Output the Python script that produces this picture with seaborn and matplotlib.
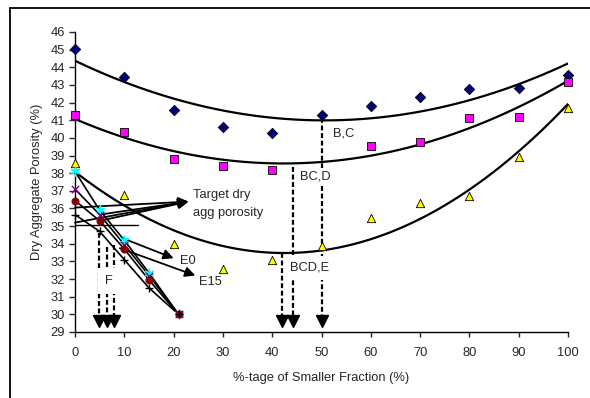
import matplotlib
matplotlib.use('Agg')
import matplotlib.pyplot as plt
import seaborn as sns
import numpy as np
import pandas as pd
from matplotlib.lines import Line2D

# data
x_frac = [0, 10, 20, 30, 40, 50, 60, 70, 80, 90, 100]
por_bc = [45.05, 43.45, 41.6, 40.6, 40.25, 41.3, 41.8, 42.3, 42.75, 42.8, 43.55]
x_frac_d = [0, 10, 20, 30, 40, 60, 70, 80, 90, 100]
por_bcd = [41.28, 40.35, 38.8, 38.4, 38.2, 39.55, 39.75, 41.15, 41.2, 43.15]
por_bcde = [38.56, 36.77, 34.0, 32.56, 33.08, 33.86, 35.44, 36.3, 36.7, 38.92, 41.7]

x_e = [0, 5, 10, 15, 21]
e_cyan = [38.1, 35.9, 34.2, 32.35, 30.0]
e_purple = [37.1, 35.65, 33.95, 32.2, 30.0]
e_red = [36.45, 35.3, 33.7, 31.95, 30.0]
e_plus = [35.65, 34.7, 33.1, 31.5, 30.0]

x_ticks = list(range(0, 101, 10))
y_ticks = list(range(29, 47))

# annotation anchors
target_from = [(0, 36.05), (0, 35.2), (5, 35.65), (5, 35.3)]
target_tip = (23, 36.39)
f_arrows = [(4.9, 34.6), (6.4, 33.8), (7.9, 33.95)]
opt_arrows = [(42.0, 33.48), (44.2, 38.37), (50.0, 41.1)]
arrow_end = 29.63

sns.set_style('white')
plt.rcParams['font.family'] = ['Liberation Sans', 'DejaVu Sans']

fig = plt.figure(figsize=(5.9, 3.98), dpi=100)
ax = fig.add_axes([75 / 590, 1 - 332 / 398, 493 / 590, 300 / 398])

# trendlines (2nd order like Excel)
for xs, ys in [(x_frac, por_bc), (x_frac_d, por_bcd), (x_frac, por_bcde)]:
    sns.regplot(x=xs, y=ys, order=2, ci=None, scatter=False, ax=ax,
                line_kws=dict(color='black', lw=1.6, zorder=2))

# E-series connecting lines
for ys in [e_cyan, e_purple, e_red, e_plus]:
    sns.lineplot(x=x_e, y=ys, color='black', lw=1.2, sort=False, ax=ax, zorder=2)

# markers
mk = dict(ax=ax, zorder=5, clip_on=False)
sns.scatterplot(x=x_frac, y=por_bc, marker='D', s=28, color='#000080',
                edgecolor='black', linewidth=0.6, **mk)
sns.scatterplot(x=x_frac_d, y=por_bcd, marker='s', s=32, color='#FF00FF',
                edgecolor='black', linewidth=0.6, **mk)
sns.scatterplot(x=x_frac, y=por_bcde, marker='^', s=36, color='#FFFF00',
                edgecolor='black', linewidth=0.6, **mk)
sns.scatterplot(x=x_e, y=e_cyan, marker=(6, 2, 0), s=40, color='#00FFFF',
                linewidth=1.0, **mk)
sns.scatterplot(x=x_e, y=e_purple, marker='x', s=28, color='#800080',
                linewidth=1.0, **mk)
sns.scatterplot(x=x_e, y=e_red, marker='o', s=28, color='#800000',
                edgecolor='#800000', **mk)
sns.scatterplot(x=x_e, y=e_plus, marker='+', s=40, color='black',
                linewidth=1.0, **mk)

arrow_kw = dict(arrowstyle='-|>', color='black', lw=1.3, mutation_scale=15,
                shrinkA=0, shrinkB=0)
for start in target_from:
    ax.annotate('', xy=target_tip, xytext=start, arrowprops=arrow_kw, zorder=3)
ax.annotate('', xy=(20, 33.18), xytext=(9.8, 34.3), arrowprops=arrow_kw)
ax.annotate('', xy=(24.4, 32.2), xytext=(9.1, 33.75), arrowprops=arrow_kw)
ax.plot([0, 12.8], [35.05, 35.05], color='black', lw=1.0, zorder=3)

# dashed drop arrows
for xv, ytop in f_arrows + opt_arrows:
    ax.plot([xv, xv], [ytop, arrow_end], color='black', lw=1.6,
            dashes=(2.2, 1.2), zorder=3)
    ax.plot([xv], [arrow_end], marker='v', markersize=8, color='black',
            linestyle='none', zorder=3)

fs = 9.3
ax.text(24, 36.76, 'Target dry', fontsize=fs, va='center', ha='left')
ax.text(24, 35.74, 'agg porosity', fontsize=fs, va='center', ha='left')
ax.text(21.3, 33.0, 'E0', fontsize=fs, va='center', ha='left')
ax.text(25.2, 31.85, 'E15', fontsize=fs, va='center', ha='left')
ax.text(52.4, 40.26, 'B,C', fontsize=fs, va='center', ha='left')
ax.text(45.6, 37.8, 'BC,D', fontsize=fs, va='center', ha='left', zorder=6,
        bbox=dict(boxstyle='square,pad=0.2', fc='white', ec='none'))
ax.text(43.7, 32.63, 'BCD,E', fontsize=fs, va='center', ha='left', zorder=6,
        bbox=dict(boxstyle='square,pad=0.45', fc='white', ec='none'))
ax.text(6.9, 31.9, 'F', fontsize=fs, va='center', ha='center', zorder=6,
        bbox=dict(boxstyle='square,pad=0.55', fc='white', ec='none'))

ax.set_xlim(0, 100)
ax.set_ylim(29, 46)
ax.set_xticks(x_ticks)
ax.set_yticks(y_ticks)
ax.tick_params(axis='y', direction='out', length=4, width=1, pad=3, labelsize=9.3, left=True)
ax.tick_params(axis='x', direction='out', length=3.5, width=1, pad=7, labelsize=9.3, bottom=True)
for side in ['top', 'right']:
    ax.spines[side].set_visible(False)
for side in ['left', 'bottom']:
    ax.spines[side].set_color('black')
    ax.spines[side].set_linewidth(1.0)

ax.set_xlabel('%-tage of Smaller Fraction (%)', fontsize=9.3)
ax.xaxis.label.set_va('center')
ax.xaxis.set_label_coords(0.5, -(378 - 332) / 300)
ax.set_ylabel('Dry Aggregate Porosity (%)', fontsize=9.3)
ax.yaxis.label.set_va('center')
ax.yaxis.set_label_coords((37 - 75) / 493, 0.5)

# chart area frame (top and left edges visible)
fig.add_artist(Line2D([10 / 590, 1], [1 - 8 / 398, 1 - 8 / 398], color='black', lw=1.3))
fig.add_artist(Line2D([10 / 590, 10 / 590], [0, 1 - 8 / 398], color='black', lw=1.3))

fig.savefig('out.png', dpi=100)
